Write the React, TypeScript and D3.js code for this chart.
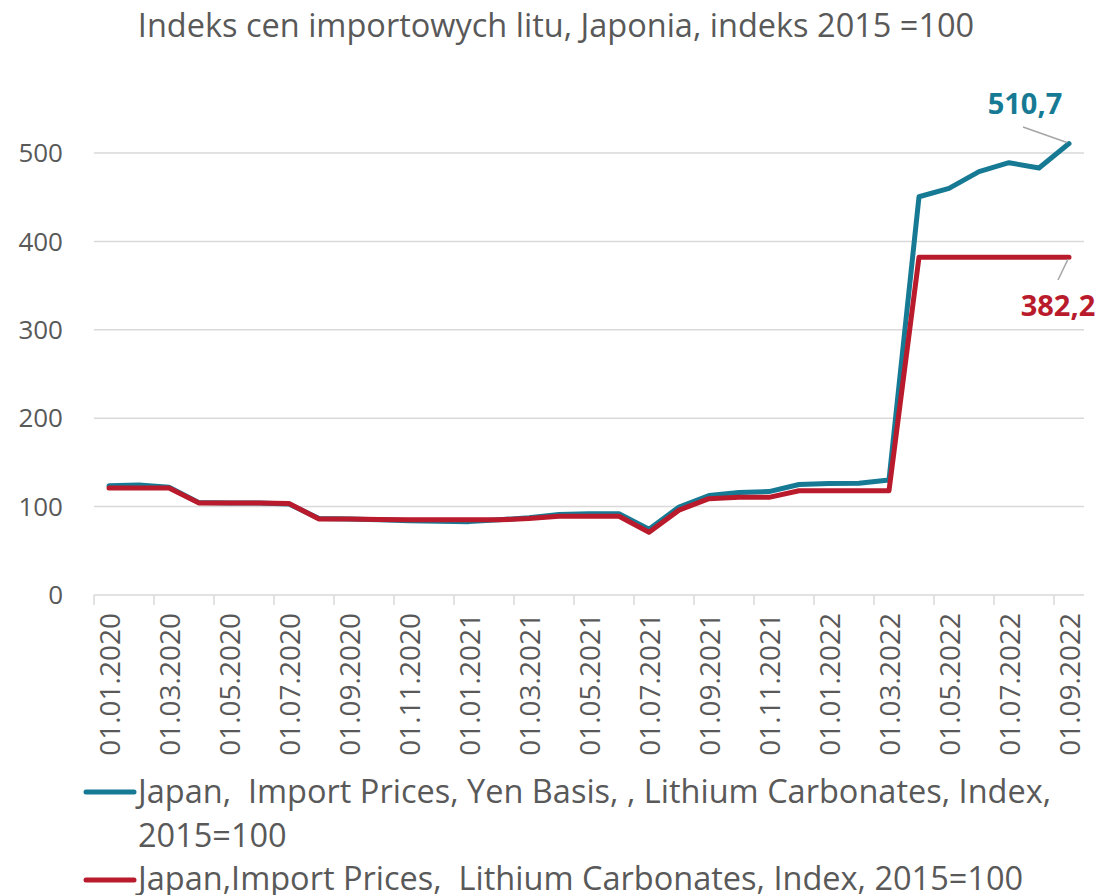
import React from "react";
import * as d3 from "d3";

const categories = [
  "01.01.2020","01.02.2020","01.03.2020","01.04.2020","01.05.2020","01.06.2020","01.07.2020","01.08.2020","01.09.2020","01.10.2020","01.11.2020","01.12.2020",
  "01.01.2021","01.02.2021","01.03.2021","01.04.2021","01.05.2021","01.06.2021","01.07.2021","01.08.2021","01.09.2021","01.10.2021","01.11.2021","01.12.2021",
  "01.01.2022","01.02.2022","01.03.2022","01.04.2022","01.05.2022","01.06.2022","01.07.2022","01.08.2022","01.09.2022",
];
const yenBasis = [
  123.5, 124.5, 122, 104.5, 104, 104, 103, 86.5, 86, 85, 84, 83.5,
  83, 85, 87.5, 91, 92, 92, 74.5, 99.5, 112.5, 116, 117, 125,
  126, 126.5, 130, 450.5, 460, 479, 489, 483, 510.7,
];
const lithium = [
  121, 121, 121, 104, 104, 104, 103.5, 86, 86, 85.5, 85, 85,
  85, 85, 86.5, 89, 89, 89, 71, 96, 109, 110.5, 110.5, 118,
  118, 118, 118, 382.2, 382.2, 382.2, 382.2, 382.2, 382.2,
];
const yTicks = [0, 100, 200, 300, 400, 500];
const title = "Indeks cen importowych litu, Japonia, indeks 2015 =100";
const legend1a = "Japan,  Import Prices, Yen Basis, , Lithium Carbonates, Index,";
const legend1b = "2015=100";
const legend2 = "Japan,Import Prices,  Lithium Carbonates, Index, 2015=100";

const BLUE = "#177A94";
const RED = "#B91B2C";
const TEXT = "#595959";
const GRID = "#D9D9D9";
const FONT = "'Open Sans', Lato, sans-serif";

export default function App() {
  const W = 1099, H = 895;
  const left = 94, right = 1084, top = 153, bottom = 595;
  const x = d3.scaleBand<number>().domain(d3.range(categories.length)).range([left, right]);
  const y = d3.scaleLinear().domain([0, 500]).range([bottom, top]);
  const cx = (i: number) => (x(i) as number) + x.bandwidth() / 2;
  const line = d3.line<number>().x((_, i) => cx(i)).y((d) => y(d));
  const last = categories.length - 1;
  const tickIdx = d3.range(0, categories.length + 1, 2);
  const pre = { whiteSpace: "pre" as const };

  return (
    <svg width={W} height={H} style={{ position: "absolute", left: 0, top: 0 }} fontFamily={FONT}>
      <rect width={W} height={H} fill="#fff" />
      <text x={556} y={37} textAnchor="middle" fontSize={32.5} fill={TEXT}>{title}</text>
      {yTicks.filter((t) => t > 0).map((t) => (
        <line key={t} x1={left} x2={right} y1={y(t)} y2={y(t)} stroke={GRID} strokeWidth={1.5} />
      ))}
      {yTicks.map((t) => (
        <text key={t} x={63} y={y(t)} dy="0.35em" textAnchor="end" fontSize={26} fill={TEXT}>{t}</text>
      ))}
      <line x1={left} x2={right} y1={bottom} y2={bottom} stroke={GRID} strokeWidth={1.5} />
      {tickIdx.map((i) => {
        const xx = i < categories.length ? (x(i) as number) : right;
        return <line key={i} x1={xx} x2={xx} y1={bottom} y2={bottom + 10} stroke={GRID} strokeWidth={1.5} />;
      })}
      {categories.map((c, i) => i % 2 === 0 ? (
        <text key={c} transform={`translate(${cx(i) + 1},${bottom + 18}) rotate(-90)`} dy="0.36em" textAnchor="end" fontSize={28} fill={TEXT}>{c}</text>
      ) : null)}
      <path d={line(yenBasis) || ""} fill="none" stroke={BLUE} strokeWidth={5} strokeLinejoin="round" strokeLinecap="round" />
      <path d={line(lithium) || ""} fill="none" stroke={RED} strokeWidth={5} strokeLinejoin="round" strokeLinecap="round" />
      {/* data labels */}
      <line x1={1023} y1={127} x2={cx(last) - 2} y2={y(yenBasis[last]) - 1} stroke="#A6A6A6" strokeWidth={1.5} />
      <text x={1025} y={114} textAnchor="middle" fontSize={29} fontWeight="bold" fill={BLUE}>{yenBasis[last].toFixed(1).replace(".", ",")}</text>
      <line x1={1058} y1={280} x2={cx(last) - 1} y2={y(lithium[last]) + 2} stroke="#A6A6A6" strokeWidth={1.5} />
      <text x={1058} y={316} textAnchor="middle" fontSize={29} fontWeight="bold" fill={RED}>{lithium[last].toFixed(1).replace(".", ",")}</text>
      {/* legend */}
      <line x1={86} x2={134} y1={792} y2={792} stroke={BLUE} strokeWidth={5} strokeLinecap="round" />
      <text x={138} y={792} dy="0.35em" fontSize={32.5} fill={TEXT} style={pre}>{legend1a}</text>
      <text x={138} y={836} dy="0.35em" fontSize={32.5} fill={TEXT} style={pre}>{legend1b}</text>
      <line x1={86} x2={134} y1={880} y2={880} stroke={RED} strokeWidth={5} strokeLinecap="round" />
      <text x={138} y={879} dy="0.35em" fontSize={32.5} fill={TEXT} style={pre}>{legend2}</text>
    </svg>
  );
}
